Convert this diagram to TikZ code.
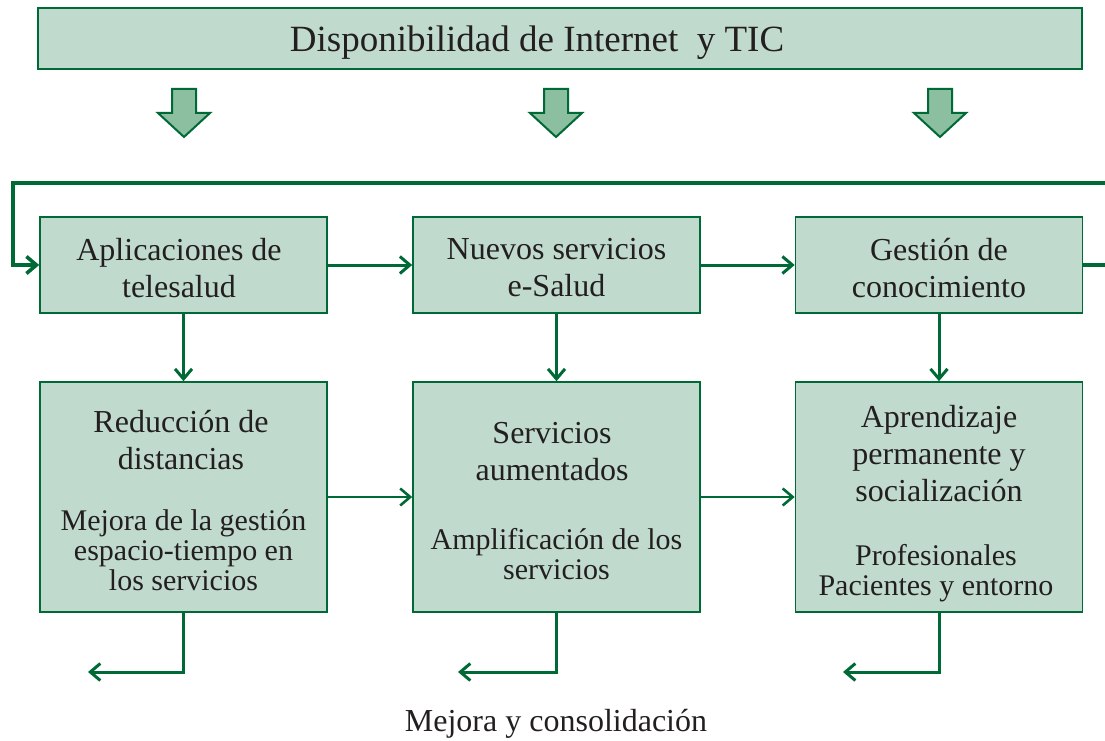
\documentclass[tikz,border=0pt]{standalone}
\usepackage{fontspec}
\setmainfont{Liberation Serif}
\usetikzlibrary{arrows.meta}

\definecolor{boxfill}{RGB}{192,219,205}
\definecolor{darkgreen}{RGB}{0,106,55}
\definecolor{arrowfill}{RGB}{140,190,160}
\definecolor{inkgray}{RGB}{35,31,32}

\newcommand{\titlesize}{\fontsize{32}{37}\selectfont}
\newcommand{\subsize}{\fontsize{30}{30}\selectfont}

\begin{document}
\begin{tikzpicture}[x=1pt, y=-1pt,
    panel/.style ={rectangle, draw=darkgreen, line width=1.6pt, fill=boxfill,
                   text=inkgray, align=center, inner sep=0pt},
    stage/.style ={panel, minimum width=287pt, minimum height=96pt},
    result/.style ={panel, minimum width=287pt, minimum height=230pt},
    label/.style ={text=inkgray, align=center, inner sep=0pt},
    link/.style ={draw=darkgreen, line width=3pt,
                  -{Straight Barb[length=10pt, width=17pt]}},
    blockarrow/.style ={draw=darkgreen, line width=2pt, fill=arrowfill, line join=miter}]
   \useasboundingbox (0,0) rectangle (1105,741);

   % top bar
   \node[panel, minimum width=1044pt, minimum height=61pt] (tic) at (560,38.5) {};
   \node[label, anchor=base, font=\fontsize{37}{40}\selectfont] (tictext) at (537,52) {Disponibilidad de Internet\ \ y TIC};

   % block arrows
   \foreach \cx in {184,556,940}
     \draw[blockarrow] ({\cx-12},89) -- ({\cx+12},89) -- ({\cx+12},113) -- ({\cx+26},113)
        -- (\cx,137) -- ({\cx-26},113) -- ({\cx-12},113) -- cycle;

   % first row
   \node[stage] (A) at (183.5,265) {};
   \node[stage] (B) at (556.5,265) {};
   \node[stage] (C) at (939,265)   {};
   \node[label, font=\titlesize] (At) at (179,268) {Aplicaciones de\\telesalud};
   \node[label, font=\titlesize] (Bt) at (556.5,268) {Nuevos servicios\\e-Salud};
   \node[label, font=\titlesize] (Ct) at (939,268)   {Gestión de\\conocimiento};

   % second row
   \node[result] (D) at (183.5,497) {};
   \node[result] (E) at (556.5,497) {};
   \node[result] (F) at (939,497)   {};
   \node[label, font=\titlesize] (Dt) at (181,440) {Reducción de\\distancias};
   \node[label, font=\subsize]   (Ds) at (183.5,550) {Mejora de la gestión\\espacio-tiempo en\\los servicios};
   \node[label, font=\titlesize] (Et) at (552,452) {Servicios\\aumentados};
   \node[label, font=\subsize]   (Es) at (556.5,554) {Amplificación de los\\servicios};
   \node[label, font=\titlesize] (Ft) at (939,454) {Aprendizaje\\permanente y\\socialización};
   \node[label, font=\subsize]   (Fs) at (936,573) {Profesionales\\Pacientes y entorno};

   % feedback loop
   \coordinate (fbR) at (1105,183);
   \coordinate (fbL) at (13,183);
   \coordinate (outR) at (1105,265);
   \draw[link, line width=3.6pt] (fbR) -- (fbL) |- (A.west);
   \draw[draw=darkgreen, line width=3.6pt] (C.east) -- (outR);

   \draw[link] (A) to (B);
   \draw[link] (B) to (C);
   \draw[link] (A) to (D);
   \draw[link] (B) to (E);
   \draw[link] (C) to (F);
   \draw[link, line width=2.6pt] (D) to (E);
   \draw[link, line width=2.6pt] (E) to (F);

   % outputs
   \coordinate (m1) at (88,672);
   \coordinate (m2) at (458,672);
   \coordinate (m3) at (843,672);
   \draw[link] (D.south) |- (m1);
   \draw[link] (E.south) |- (m2);
   \draw[link] (F.south) |- (m3);
   \node[label, font=\titlesize] (mejora) at (556,724) {Mejora y consolidación};
 \end{tikzpicture}
\end{document}
